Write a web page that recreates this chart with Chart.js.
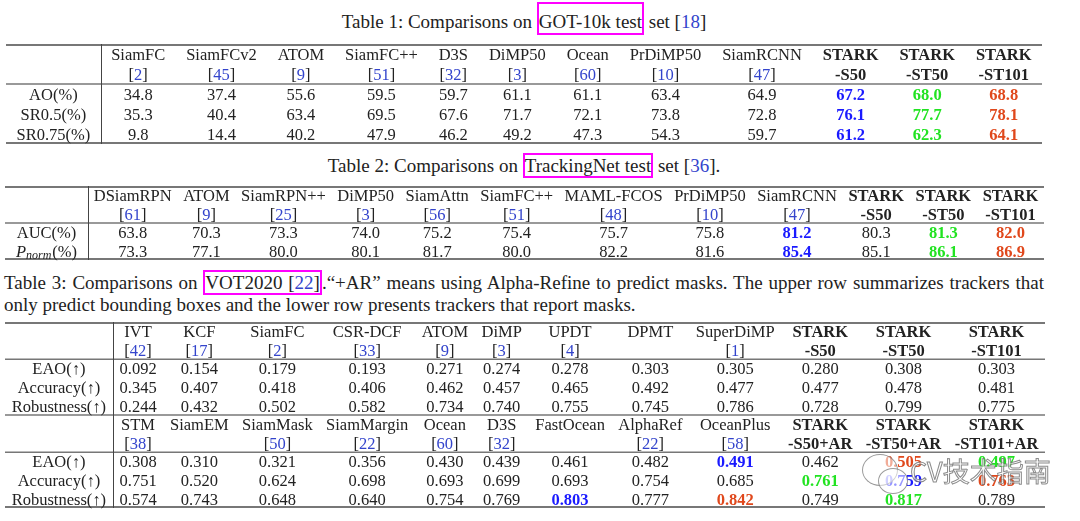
<!DOCTYPE html>
<html>
<head>
<meta charset="utf-8">
<script src="https://cdn.jsdelivr.net/npm/chart.js"></script>
<style>
  body { margin: 0; background: #fff; }
  #page { position: relative; width: 1080px; height: 521px; overflow: hidden;
          font-family: "Liberation Serif", "Times New Roman", serif; color: #222; }
  .cap { position: absolute; font-size: 19px; line-height: 22px; white-space: nowrap; }
  .box { border: 2px solid #ff00ff; }
  .cite { color: #3344cc; }
  canvas { position: absolute; left: 0; }
  #wm { position: absolute; left: 860px; top: 450px; width: 200px; height: 60px; }
  #wm .b1, #wm .b2 { position: absolute; border: 1.5px solid rgba(120,120,120,0.75);
          border-radius: 50%; background: rgba(255,255,255,0.55); }
  #wm .b1 { left: 2px; top: 4px; width: 34px; height: 30px; }
  #wm .b2 { left: 18px; top: 18px; width: 28px; height: 24px; }
  #wm .txt { position: absolute; left: 50px; top: 4px; font-family: "Noto Sans CJK SC", sans-serif;
          font-size: 27px; line-height: 34px; color: rgba(255,255,255,0.6);
          -webkit-text-stroke: 1px rgba(110,110,110,0.8); }
</style>
</head>
<body>
<div id="page">
  <div class="cap" style="left:6px;width:1036px;top:11px;text-align:center">Table 1: Comparisons on <span class="box" style="padding:7px 0 1px 0">GOT-10k test</span> set [<span class="cite">18</span>]</div>
  <div class="cap" style="left:6px;width:1036px;top:155px;text-align:center">Table 2: Comparisons on <span class="box">TrackingNet test</span> set [<span class="cite">36</span>].</div>
  <div class="cap" id="cap3a" style="left:4px;top:272px">Table 3: Comparisons on <span class="box">VOT2020 [<span class="cite">22</span>]</span>.“+AR” means using Alpha-Refine to predict masks. The upper row summarizes trackers that</div>
  <div class="cap" style="left:4px;top:294px">only predict bounding boxes and the lower row presents trackers that report masks.</div>
  <canvas id="t1"></canvas>
  <canvas id="t2"></canvas>
  <canvas id="t3"></canvas>
  <div id="wm"><div class="b1"></div><div class="b2"></div><div class="txt">CV技术指南</div></div>
</div>
<script>
// Table 1: GOT-10k test
const got_methods = ["SiamFC", "SiamFCv2", "ATOM", "SiamFC++", "D3S", "DiMP50", "Ocean", "PrDiMP50", "SiamRCNN", "STARK", "STARK", "STARK"];
const got_refs = ["[2]", "[45]", "[9]", "[51]", "[32]", "[3]", "[60]", "[10]", "[47]", "-S50", "-ST50", "-ST101"];
const got_rows = ["AO(%)", "SR0.5(%)", "SR0.75(%)"];
const got_ao = [34.8, 37.4, 55.6, 59.5, 59.7, 61.1, 61.1, 63.4, 64.9, 67.2, 68.0, 68.8];
const got_sr05 = [35.3, 40.4, 63.4, 69.5, 67.6, 71.7, 72.1, 73.8, 72.8, 76.1, 77.7, 78.1];
const got_sr075 = [9.8, 14.4, 40.2, 47.9, 46.2, 49.2, 47.3, 54.3, 59.7, 61.2, 62.3, 64.1];

// Table 2: TrackingNet test
const tn_methods = ["DSiamRPN", "ATOM", "SiamRPN++", "DiMP50", "SiamAttn", "SiamFC++", "MAML-FCOS", "PrDiMP50", "SiamRCNN", "STARK", "STARK", "STARK"];
const tn_refs = ["[61]", "[9]", "[25]", "[3]", "[56]", "[51]", "[48]", "[10]", "[47]", "-S50", "-ST50", "-ST101"];
const tn_rows = ["AUC(%)", "P_{norm}(%)"];
const tn_auc = [63.8, 70.3, 73.3, 74.0, 75.2, 75.4, 75.7, 75.8, 81.2, 80.3, 81.3, 82.0];
const tn_pnorm = [73.3, 77.1, 80.0, 80.1, 81.7, 80.0, 82.2, 81.6, 85.4, 85.1, 86.1, 86.9];

// Table 3: VOT2020, upper block = bounding boxes, lower block = masks
const vot_rows = ["EAO(↑)", "Accuracy(↑)", "Robustness(↑)"];
const vot_box_methods = ["IVT", "KCF", "SiamFC", "CSR-DCF", "ATOM", "DiMP", "UPDT", "DPMT", "SuperDiMP", "STARK", "STARK", "STARK"];
const vot_box_refs = ["[42]", "[17]", "[2]", "[33]", "[9]", "[3]", "[4]", "", "[1]", "-S50", "-ST50", "-ST101"];
const vot_box_eao = [0.092, 0.154, 0.179, 0.193, 0.271, 0.274, 0.278, 0.303, 0.305, 0.280, 0.308, 0.303];
const vot_box_acc = [0.345, 0.407, 0.418, 0.406, 0.462, 0.457, 0.465, 0.492, 0.477, 0.477, 0.478, 0.481];
const vot_box_rob = [0.244, 0.432, 0.502, 0.582, 0.734, 0.740, 0.755, 0.745, 0.786, 0.728, 0.799, 0.775];
const vot_mask_methods = ["STM", "SiamEM", "SiamMask", "SiamMargin", "Ocean", "D3S", "FastOcean", "AlphaRef", "OceanPlus", "STARK", "STARK", "STARK"];
const vot_mask_refs = ["[38]", "", "[50]", "[22]", "[60]", "[32]", "", "[22]", "[58]", "-S50+AR", "-ST50+AR", "-ST101+AR"];
const vot_mask_eao = [0.308, 0.310, 0.321, 0.356, 0.430, 0.439, 0.461, 0.482, 0.491, 0.462, 0.505, 0.497];
const vot_mask_acc = [0.751, 0.520, 0.624, 0.698, 0.693, 0.699, 0.693, 0.754, 0.685, 0.761, 0.759, 0.763];
const vot_mask_rob = [0.574, 0.743, 0.648, 0.640, 0.754, 0.769, 0.803, 0.777, 0.842, 0.749, 0.817, 0.789];

// styles
const SIZE = 16.5;
const FAMILY = '"Liberation Serif", "Times New Roman", serif';
const INK = "#222";
const CITE = "#3344cc";
const RULE = "#777";
const RANK_COLORS = ["#e0481c", "#22e322", "#1a1aff"]; // best, second, third

function font(bold, italic, size) {
  return (italic ? "italic " : "") + (bold ? "bold " : "") + (size || SIZE) + "px " + FAMILY;
}
const isStark = m => m === "STARK";

function textW(ctx, s, bold) {
  ctx.font = font(bold);
  return ctx.measureText(s).width;
}

// labels like P_{norm}(%) : italic letter + italic subscript
function labelParts(label) {
  const m = label.match(/^(\w)_\{(\w+)\}(.*)$/);
  return m ? m.slice(1) : null;
}
function labelW(ctx, label) {
  const p = labelParts(label);
  if (!p) return textW(ctx, label, false);
  ctx.font = font(false, true); let w = ctx.measureText(p[0]).width;
  ctx.font = font(false, true, 12); w += ctx.measureText(p[1]).width + 1;
  ctx.font = font(false); return w + ctx.measureText(p[2]).width;
}

function rankColors(values) {
  const top = [...new Set(values)].sort((a, b) => b - a).slice(0, 3);
  return values.map(v => (top.indexOf(v) >= 0 ? RANK_COLORS[top.indexOf(v)] : null));
}

// column widths like a LaTeX tabular stretched to the full table width
function layout(blocks, width, minLabel) {
  const ctx = document.createElement("canvas").getContext("2d");
  const n = blocks[0].methods.length;
  const colW = new Array(n).fill(0);
  let lw = 0;
  blocks.forEach(b => {
    b.methods.forEach((m, i) => colW[i] = Math.max(colW[i], textW(ctx, m, isStark(m))));
    b.refs.forEach((r, i) => colW[i] = Math.max(colW[i], textW(ctx, r, !r.startsWith("["))));
    b.rows.forEach(r => {
      lw = Math.max(lw, labelW(ctx, r.label));
      r.values.forEach((v, i) => colW[i] = Math.max(colW[i], textW(ctx, v.toFixed(b.digits), true)));
    });
  });
  const sum = colW.reduce((a, c) => a + c, 0);
  let pad, labelCol;
  if (minLabel) { labelCol = minLabel; pad = (width - labelCol - sum) / (2 * n); }
  else { pad = (width - lw - sum) / (2 * (n + 1)); labelCol = lw + 2 * pad; }
  const centers = [];
  let xx = labelCol;
  colW.forEach(w => { centers.push(xx + pad + w / 2); xx += w + 2 * pad; });
  return { labelCol, centers };
}

function drawText(ctx, s, cx, cy, color, bold) {
  ctx.font = font(bold);
  ctx.fillStyle = color;
  ctx.textAlign = "center";
  ctx.fillText(s, cx, cy + 5.8);
}

function drawRef(ctx, r, cx, cy) {
  if (!r) return;
  if (!r.startsWith("[")) { drawText(ctx, r, cx, cy, INK, true); return; }
  const inner = r.slice(1, -1);
  ctx.font = font(false);
  const wb = ctx.measureText("[").width, wi = ctx.measureText(inner).width;
  let x = cx - (2 * wb + wi) / 2;
  ctx.textAlign = "left";
  ctx.fillStyle = INK; ctx.fillText("[", x, cy + 5.8);
  ctx.fillStyle = CITE; ctx.fillText(inner, x + wb, cy + 5.8);
  ctx.fillStyle = INK; ctx.fillText("]", x + wb + wi, cy + 5.8);
}

function drawLabel(ctx, label, cx, cy) {
  const p = labelParts(label);
  if (!p) { drawText(ctx, label, cx, cy, INK, false); return; }
  const w = labelW(ctx, label);
  let x = cx - w / 2;
  ctx.textAlign = "left"; ctx.fillStyle = INK;
  ctx.font = font(false, true); ctx.fillText(p[0], x, cy + 5.8); x += ctx.measureText(p[0]).width;
  ctx.font = font(false, true, 12); ctx.fillText(p[1], x, cy + 8.5); x += ctx.measureText(p[1]).width + 1;
  ctx.font = font(false); ctx.fillText(p[2], x, cy + 5.8);
}

function hline(ctx, x0, x1, y, w) {
  ctx.strokeStyle = RULE; ctx.lineWidth = w;
  ctx.beginPath(); ctx.moveTo(x0, y); ctx.lineTo(x1, y); ctx.stroke();
}

function tablePlugin(blocks, lay, mids) {
  return {
    id: "tableCells",
    afterDraw(chart) {
      const { ctx, scales: { x, y } } = chart;
      const nRows = y.getLabels().length;
      const x0 = x.getPixelForValue(0), x1 = x.getPixelForValue(x.max);
      const yTop = y.getPixelForValue(-0.5), yBot = y.getPixelForValue(nRows - 0.5);
      ctx.save();
      hline(ctx, x0, x1, yTop + 1, 2);
      hline(ctx, x0, x1, yBot - 1, 2);
      mids.forEach(v => hline(ctx, x0, x1, y.getPixelForValue(v), 1.4));
      const xv = Math.round(x.getPixelForValue(lay.labelCol)) + 0.5;
      ctx.strokeStyle = "#444"; ctx.lineWidth = 1;
      ctx.beginPath(); ctx.moveTo(xv, yTop); ctx.lineTo(xv, yBot); ctx.stroke();

      const lx = x.getPixelForValue(lay.labelCol / 2);
      let row = 0;
      blocks.forEach(b => {
        b.methods.forEach((m, i) => {
          const cx = x.getPixelForValue(lay.centers[i]);
          drawText(ctx, m, cx, y.getPixelForValue(row), INK, isStark(m));
          drawRef(ctx, b.refs[i], cx, y.getPixelForValue(row + 1));
        });
        row += 2;
        b.rows.forEach(r => {
          const cy = y.getPixelForValue(row);
          drawLabel(ctx, r.label, lx, cy);
          const colors = b.ranked ? rankColors(r.values) : [];
          r.values.forEach((v, i) => {
            drawText(ctx, v.toFixed(b.digits), x.getPixelForValue(lay.centers[i]), cy,
                     colors[i] || INK, !!colors[i]);
          });
          row++;
        });
      });
      ctx.restore();
    }
  };
}

function makeTable(id, geom, blocks, minLabel) {
  const canvas = document.getElementById(id);
  canvas.width = 1080;
  canvas.height = Math.round(geom.bottom - geom.top) + 4;
  canvas.style.top = (geom.top - 2) + "px";
  const width = geom.right - geom.left;
  const lay = layout(blocks, width, minLabel);

  const keys = [], mids = [];
  blocks.forEach((b, bi) => {
    if (bi > 0) mids.push(keys.length - 0.5);
    keys.push("name" + bi, "ref" + bi);
    mids.push(keys.length - 0.5);
    b.rows.forEach(r => keys.push(r.label + bi));
  });

  new Chart(canvas, {
    type: "scatter",
    data: { datasets: [] },
    options: {
      responsive: false,
      animation: false,
      events: [],
      layout: { padding: { left: geom.left, right: 1080 - geom.right, top: 2, bottom: 2 } },
      plugins: { legend: { display: false }, tooltip: { enabled: false } },
      scales: {
        x: { type: "linear", min: 0, max: width, display: false },
        y: { type: "category", labels: keys, offset: true, display: false }
      }
    },
    plugins: [tablePlugin(blocks, lay, mids)]
  });
}

makeTable("t1", { left: 6, right: 1042, top: 44, bottom: 144 }, [{
  methods: got_methods, refs: got_refs, digits: 1, ranked: true,
  rows: [
    { label: got_rows[0], values: got_ao },
    { label: got_rows[1], values: got_sr05 },
    { label: got_rows[2], values: got_sr075 }
  ]
}]);

makeTable("t2", { left: 5, right: 1044, top: 186, bottom: 260 }, [{
  methods: tn_methods, refs: tn_refs, digits: 1, ranked: true,
  rows: [
    { label: tn_rows[0], values: tn_auc },
    { label: tn_rows[1], values: tn_pnorm }
  ]
}], 83);

makeTable("t3", { left: 5, right: 1045, top: 321.5, bottom: 507 }, [{
  methods: vot_box_methods, refs: vot_box_refs, digits: 3, ranked: false,
  rows: [
    { label: vot_rows[0], values: vot_box_eao },
    { label: vot_rows[1], values: vot_box_acc },
    { label: vot_rows[2], values: vot_box_rob }
  ]
}, {
  methods: vot_mask_methods, refs: vot_mask_refs, digits: 3, ranked: true,
  rows: [
    { label: vot_rows[0], values: vot_mask_eao },
    { label: vot_rows[1], values: vot_mask_acc },
    { label: vot_rows[2], values: vot_mask_rob }
  ]
}]);

// stretch first caption line of table 3 to the full width (justified)
const cap = document.getElementById("cap3a");
const spaces = (cap.textContent.match(/ /g) || []).length;
cap.style.wordSpacing = ((1040 - cap.getBoundingClientRect().width) / spaces) + "px";
</script>
</body>
</html>
